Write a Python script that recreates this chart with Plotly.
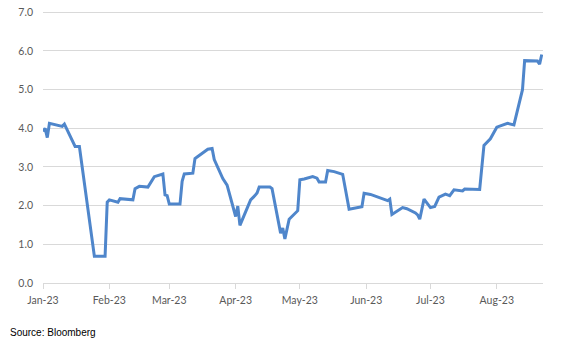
import plotly.graph_objects as go

dates = [
    "2023-01-03", "2023-01-04", "2023-01-05", "2023-01-06", "2023-01-12", "2023-01-13",
    "2023-01-18", "2023-01-20", "2023-01-27", "2023-02-01", "2023-02-02", "2023-02-03",
    "2023-02-07", "2023-02-08", "2023-02-14", "2023-02-15", "2023-02-17", "2023-02-21",
    "2023-02-24", "2023-02-28", "2023-03-01", "2023-03-02", "2023-03-03", "2023-03-08",
    "2023-03-09", "2023-03-10", "2023-03-14", "2023-03-15", "2023-03-16", "2023-03-21",
    "2023-03-23", "2023-03-24", "2023-03-28", "2023-03-30", "2023-04-03", "2023-04-04",
    "2023-04-05", "2023-04-10", "2023-04-12", "2023-04-13", "2023-04-14", "2023-04-19",
    "2023-04-20", "2023-04-24", "2023-04-25", "2023-04-26", "2023-04-28", "2023-05-01",
    "2023-05-02", "2023-05-03", "2023-05-05", "2023-05-09", "2023-05-11", "2023-05-12",
    "2023-05-15", "2023-05-16", "2023-05-19", "2023-05-23", "2023-05-26", "2023-06-01",
    "2023-06-02", "2023-06-05", "2023-06-09", "2023-06-13", "2023-06-14", "2023-06-15",
    "2023-06-20", "2023-06-22", "2023-06-26", "2023-06-27", "2023-06-28", "2023-06-30",
    "2023-07-03", "2023-07-05", "2023-07-07", "2023-07-10", "2023-07-11", "2023-07-12",
    "2023-07-14", "2023-07-17", "2023-07-18", "2023-07-19", "2023-07-26", "2023-07-28",
    "2023-07-31", "2023-08-03", "2023-08-08", "2023-08-11", "2023-08-15", "2023-08-16",
    "2023-08-22", "2023-08-23", "2023-08-24",
]
values = [
    3.92, 4.00, 3.76, 4.13, 4.05, 4.11,
    3.53, 3.53, 0.69, 0.69, 2.09, 2.15,
    2.09, 2.18, 2.15, 2.44, 2.50, 2.48,
    2.75, 2.82, 2.28, 2.26, 2.04, 2.04,
    2.63, 2.82, 2.84, 3.22, 3.26, 3.46,
    3.48, 3.19, 2.70, 2.53, 1.72, 1.99,
    1.49, 2.15, 2.26, 2.33, 2.48, 2.48,
    2.44, 1.29, 1.42, 1.14, 1.65, 1.81,
    1.87, 2.67, 2.69, 2.75, 2.71, 2.61,
    2.61, 2.91, 2.88, 2.81, 1.91, 1.97,
    2.32, 2.29, 2.20, 2.13, 2.17, 1.77,
    1.95, 1.92, 1.81, 1.76, 1.65, 2.17,
    1.95, 1.98, 2.22, 2.30, 2.28, 2.26,
    2.41, 2.39, 2.38, 2.43, 2.42, 3.56,
    3.73, 4.03, 4.13, 4.09, 5.00, 5.75,
    5.74, 5.66, 5.91,
]

x_range = ["2023-01-03", "2023-08-24 14:00"]
y_ticks = [0, 1, 2, 3, 4, 5, 6, 7]
source_text = "Source: Bloomberg"

fig = go.Figure()
fig.add_trace(go.Scatter(
    x=dates, y=values, mode="lines",
    line=dict(color="#4F86CB", width=3, shape="linear"),
    hoverinfo="skip",
))

tick_font = dict(family="Lato, Open Sans, sans-serif", size=10.5, color="#595959")

fig.update_layout(
    width=564, height=346,
    margin=dict(l=43, r=21, t=10, b=63, autoexpand=False),
    paper_bgcolor="white", plot_bgcolor="white",
    showlegend=False,
    xaxis=dict(
        type="date", range=x_range, automargin=False,
        tick0="2023-01-03", dtick="M1", tickformat="%b-%y",
        showgrid=False, zeroline=False,
        showline=True, linecolor="#d9d9d9", linewidth=1,
        ticks="outside", ticklen=5, tickcolor="#d9d9d9", tickwidth=1,
        tickfont=tick_font, ticklabelstandoff=2,
    ),
    yaxis=dict(
        range=[0, 7.06], tickvals=y_ticks, tickformat=".1f", automargin=False,
        showgrid=True, gridcolor="#d9d9d9", gridwidth=1,
        zeroline=False, showline=False, ticks="",
        tickfont=tick_font, ticklabelstandoff=9,
    ),
    annotations=[dict(
        text=source_text, xref="paper", yref="paper",
        x=(8 - 43) / 500, y=(283.3 - 333) / 273,
        xanchor="left", yanchor="middle", showarrow=False,
        font=dict(family="Liberation Sans, Arial, sans-serif", size=10, color="#000000"),
    )],
)

fig.write_html("out.html")
